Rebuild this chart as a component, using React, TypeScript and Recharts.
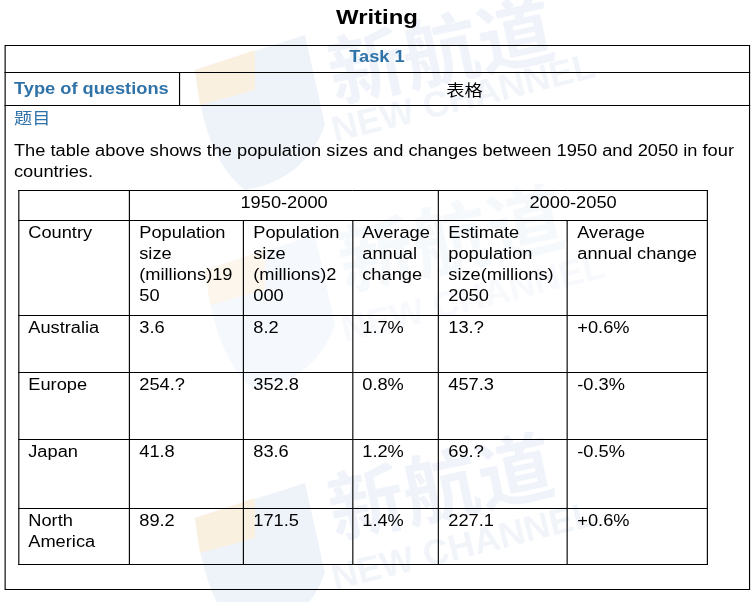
import React from "react";
import { Surface, Text, Layer } from "recharts";

// table content
const countries = ["Australia", "Europe", "Japan", "North\nAmerica"];
const pop1950 = ["3.6", "254.?", "41.8", "89.2"];
const pop2000 = ["8.2", "352.8", "83.6", "171.5"];
const change1950 = ["1.7%", "0.8%", "1.2%", "1.4%"];
const pop2050 = ["13.?", "457.3", "69.?", "227.1"];
const change2000 = ["+0.6%", "-0.3%", "-0.5%", "+0.6%"];
const periods = ["1950-2000", "2000-2050"];
const headers = [
  "Country",
  "Population\nsize\n(millions)19\n50",
  "Population\nsize\n(millions)2\n000",
  "Average\nannual\nchange",
  "Estimate\npopulation\nsize(millions)\n2050",
  "Average\nannual change",
];

// the reference is horizontally stretched, so the page is laid out narrow and scaled
const S = 1.14;
const X = (px: number) => px / S;

const FONT = '"Liberation Sans", Arial, "Noto Sans CJK SC", sans-serif';
const BLUE = "#2f72a8";

const colEdges = [18, 129, 243, 352, 438, 567, 707];
const rowHeights = [30, 95, 57, 67, 69, 56];

const Watermark = () => {
  const groups = [
    { x: 185, y: 30, t: 72 },
    { x: 195, y: 230, t: 60 },
    { x: 185, y: 478, t: 60 },
  ];
  return (
    <Surface width={754} height={602} style={{ position: "absolute", left: 0, top: 0 }}>
      {groups.map((g, i) => (
        <Layer key={i} opacity={i === 1 ? 0.35 : 0.6}>
          <path
            d={`M${g.x + 10},${g.y + 40} L${g.x + 120},${g.y + 5} L${g.x + 140},${g.y + 95} Q${g.x + 120},${g.y + 150} ${g.x + 60},${g.y + 160} Q${g.x + 20},${g.y + 130} ${g.x + 10},${g.y + 40} Z`}
            fill="#e3ebf6"
          />
          <path
            d={`M${g.x + 10},${g.y + 40} L${g.x + 70},${g.y + 20} L${g.x + 70},${g.y + 60} L${g.x + 15},${g.y + 75} Z`}
            fill="#f7e6cc"
          />
          <Text
            x={g.x + 150}
            y={g.y + g.t}
            angle={-12}
            fontSize={76}
            fontWeight={700}
            fill="#e6edf7"
            fontFamily='"Noto Sans CJK SC", sans-serif'
          >
            新航道
          </Text>
          <Text
            x={g.x + 150}
            y={g.y + 112}
            angle={-14}
            fontSize={36}
            fontWeight={700}
            fill="#e8eef7"
            fontFamily={FONT}
          >
            NEW CHANNEL
          </Text>
        </Layer>
      ))}
    </Surface>
  );
};

const cell: React.CSSProperties = {
  border: "1px solid #000",
  padding: "1px 7px 0 8px",
  verticalAlign: "top",
  whiteSpace: "pre",
  fontSize: 16,
  lineHeight: "21px",
  color: "#000",
};

export default function App() {
  const widths = colEdges.slice(1).map((e, i) => X(e - colEdges[i]));
  const rows = countries.map((c, i) => [c, pop1950[i], pop2000[i], change1950[i], pop2050[i], change2000[i]]);
  return (
    <div style={{ position: "absolute", left: 0, top: 0, width: 754, height: 602, background: "#fff", overflow: "hidden" }}>
      <Watermark />
      <div
        style={{
          position: "absolute",
          left: 0,
          top: 0,
          width: X(754),
          height: 602,
          transform: `scaleX(${S})`,
          transformOrigin: "0 0",
          fontFamily: FONT,
          color: "#000",
        }}
      >
        <div style={{ position: "absolute", left: 0, top: 4, width: X(754), textAlign: "center", fontSize: 21, fontWeight: 700, lineHeight: "26px" }}>
          Writing
        </div>
        <div style={{ position: "absolute", left: X(4), top: 45, width: X(746), height: 545, border: "1px solid #000", boxSizing: "border-box" }} />
        <div style={{ position: "absolute", left: X(4), top: 72, width: X(746), height: 1, background: "#000" }} />
        <div style={{ position: "absolute", left: X(4), top: 105, width: X(746), height: 1, background: "#000" }} />
        <div style={{ position: "absolute", left: X(179), top: 72, width: 1, height: 33, background: "#000" }} />
        <div style={{ position: "absolute", left: X(4), top: 48, width: X(746), textAlign: "center", fontSize: 16, fontWeight: 700, lineHeight: "18px", color: BLUE }}>
          Task 1
        </div>
        <div style={{ position: "absolute", left: X(14), top: 79, fontSize: 16, fontWeight: 700, lineHeight: "20px", color: BLUE }}>
          Type of questions
        </div>
        <div style={{ position: "absolute", left: X(179), top: 79, width: X(571), textAlign: "center", fontSize: 16, lineHeight: "20px", fontFamily: '"Noto Sans CJK SC", sans-serif' }}>
          表格
        </div>
        <div style={{ position: "absolute", left: X(14), top: 107, fontSize: 16, lineHeight: "20px", color: BLUE, fontFamily: '"Noto Sans CJK SC", sans-serif' }}>
          题目
        </div>
        <div style={{ position: "absolute", left: X(14), top: 140, width: X(740), fontSize: 16, lineHeight: "21px" }}>
          The table above shows the population sizes and changes between 1950 and 2050 in four countries.
        </div>
        <table
          style={{
            position: "absolute",
            left: X(18),
            top: 190,
            borderCollapse: "collapse",
            tableLayout: "fixed",
            width: X(707 - 18),
            fontFamily: FONT,
          }}
        >
          <colgroup>
            {widths.map((w, i) => (
              <col key={i} style={{ width: w }} />
            ))}
          </colgroup>
          <tbody>
            <tr style={{ height: rowHeights[0] }}>
              <td style={cell}></td>
              <td style={{ ...cell, textAlign: "center", padding: "1px 0 0 0" }} colSpan={3}>{periods[0]}</td>
              <td style={{ ...cell, textAlign: "center", padding: "1px 0 0 0" }} colSpan={2}>{periods[1]}</td>
            </tr>
            <tr style={{ height: rowHeights[1] }}>
              {headers.map((h, i) => (
                <td key={i} style={cell}>{h}</td>
              ))}
            </tr>
            {rows.map((r, ri) => (
              <tr key={ri} style={{ height: rowHeights[ri + 2] }}>
                {r.map((v, ci) => (
                  <td key={ci} style={cell}>{v}</td>
                ))}
              </tr>
            ))}
          </tbody>
        </table>
      </div>
    </div>
  );
}
